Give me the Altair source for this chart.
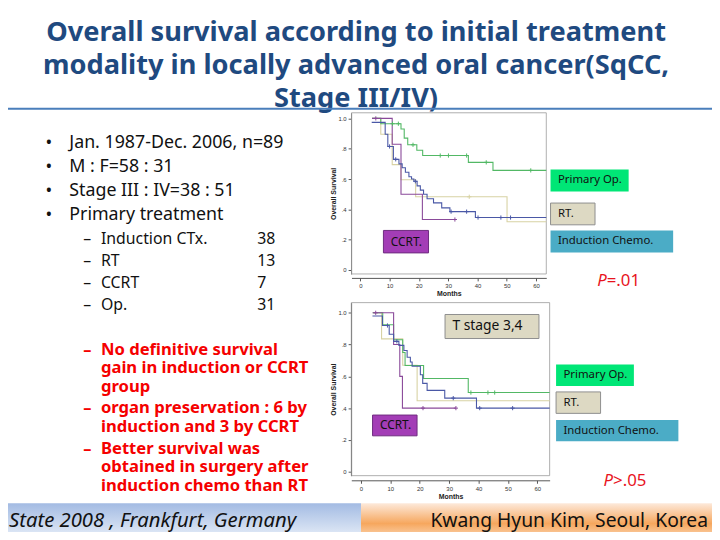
import altair as alt
import pandas as pd

# ---------------- text content ----------------
title_lines = ["Overall survival according to initial treatment",
               "modality in locally advanced oral cancer(SqCC,",
               "Stage III/IV)"]
bullet_lines = ["Jan. 1987-Dec. 2006, n=89", "M : F=58 : 31",
                "Stage III : IV=38 : 51", "Primary treatment"]
treat_names = ["Induction CTx.", "RT", "CCRT", "Op."]
treat_counts = ["38", "13", "7", "31"]
finding_1 = ["No definitive survival", "gain in induction or CCRT", "group"]
finding_2 = ["organ preservation : 6 by", "induction and 3 by CCRT"]
finding_3 = ["Better survival was", "obtained in surgery after", "induction chemo than RT"]
footer_left = "State 2008 , Frankfurt, Germany"
footer_right = "Kwang Hyun Kim, Seoul, Korea"
series = ["Primary Op.", "RT.", "Induction Chemo.", "CCRT."]
panel2_label = "T stage 3,4"
p_texts = [("P", "=.01"), ("P", ">.05")]
x_ticks = [0, 10, 20, 30, 40, 50, 60]
y_ticks = [0, 0.2, 0.4, 0.6, 0.8, 1.0]

# ---------------- survival data (months, survival) ----------------
# Panel 1 : all patients
p1_op_t = [4.0, 7.0, 13.9, 15.0, 16.2, 19.3, 21.3, 36.9, 45.3]
p1_op_s = [1.0, 0.965, 0.93, 0.87, 0.826, 0.79, 0.755, 0.71, 0.657]
p1_op_c = [11.0, 13.0, 18.0, 27.3, 30.1, 36.3, 43.0, 58.2]
p1_op_end = 63.5

p1_rt_t = [4.0, 7.0, 10.9, 13.9, 18.9, 50.1]
p1_rt_s = [1.0, 0.895, 0.695, 0.595, 0.483, 0.318]
p1_rt_c = [37.2]
p1_rt_end = 63.5

p1_ic_t = [3.9, 8.5, 9.4, 11.3, 13.2, 14.3, 15.4, 16.6, 17.5, 18.3, 19.4,
           20.5, 21.6, 22.8, 25.0, 27.8, 30.6, 39.3]
p1_ic_s = [0.974, 0.895, 0.815, 0.73, 0.70, 0.675, 0.645, 0.615, 0.60, 0.585,
           0.555, 0.527, 0.50, 0.47, 0.443, 0.41, 0.385, 0.346]
p1_ic_c = [10.0, 12.1, 18.8, 31.0, 36.3, 40.2, 48.0, 51.3]
p1_ic_end = 63.5

p1_cc_t = [4.0, 10.9, 13.9, 21.2]
p1_cc_s = [1.0, 0.83, 0.5, 0.333]
p1_cc_c = [5.3, 32.3]
p1_cc_end = 32.3

# Panel 2 : T stage 3,4
p2_op_t = [4.0, 7.4, 11.1, 14.2, 15.0, 21.3, 36.5]
p2_op_s = [1.0, 0.925, 0.83, 0.75, 0.668, 0.587, 0.498]
p2_op_c = [37.4, 43.2, 45.5]
p2_op_end = 64.2

p2_rt_t = [4.0, 7.0, 14.2, 19.1]
p2_rt_s = [1.0, 0.836, 0.67, 0.446]
p2_rt_c = []
p2_rt_end = 64.2

p2_ic_t = [3.9, 7.3, 9.6, 11.1, 12.9, 14.6, 15.7, 16.8, 17.4, 20.2, 21.0, 22.5, 28.5, 39.3]
p2_ic_s = [0.98, 0.92, 0.865, 0.82, 0.795, 0.763, 0.72, 0.69, 0.664, 0.61, 0.556, 0.512, 0.463, 0.40]
p2_ic_c = [9.0, 12.2, 31.4, 40.4, 51.6]
p2_ic_end = 64.2

p2_cc_t = [4.0, 11.1, 13.2, 14.1]
p2_cc_s = [1.0, 0.8, 0.6, 0.4]
p2_cc_c = [5.0, 21.1, 32.3]
p2_cc_end = 32.3

# ---------------- styles ----------------
FONT = "Noto Sans"
AXFONT = "Liberation Sans"
line_colors = ["#52B865", "#D8D2A4", "#4A58A6", "#8A4A9A"]
box_fills = ["#00E676", "#DDD9C3", "#4BACC6", "#A33DB6"]
TITLE_COLOR = "#1F4A80"
RED = "#F50000"
W, H = 712, 524


def V(v):
    """page pixel -> view pixel (page has 8px margin)"""
    return v - 8


one = pd.DataFrame({"k": [0]})


def frames(curves):
    rows, cens = [], []
    for name, t, s, end, c in curves:
        for ti, si in zip(t, s):
            rows.append({"series": name, "t": ti, "s": si})
        rows.append({"series": name, "t": end, "s": s[-1]})
        for ci in c:
            sv = [si for ti, si in zip(t, s) if ti <= ci][-1]
            cens.append({"series": name, "t": ci, "s": sv})
    return pd.DataFrame(rows), pd.DataFrame(cens)


def km_panel(curves, xdom, xrng, ydom, yrng, x_off, y_off):
    """returns a flat list of layers; every layer carries the same explicit scale"""
    df_l, df_c = frames(curves)

    def xs():
        return alt.Scale(domain=xdom, range=xrng, nice=False, zero=False)

    def ys():
        return alt.Scale(domain=ydom, range=yrng, nice=False, zero=False)

    color = alt.Color("series:N", scale=alt.Scale(domain=series, range=line_colors), legend=None)
    box = pd.DataFrame({"x0": [xdom[0]], "x1": [xdom[1]], "y0": [ydom[0]], "y1": [ydom[1]]})
    frame = alt.Chart(box).mark_rect(fillOpacity=0, stroke="#9a9a9a", strokeWidth=0.8).encode(
        x=alt.X("x0:Q", scale=xs(), axis=None), x2="x1:Q",
        y=alt.Y("y0:Q", scale=ys(), axis=None), y2="y1:Q")
    lines = alt.Chart(df_l).mark_line(interpolate="step-after", strokeWidth=1.1).encode(
        x=alt.X("t:Q", scale=xs(), axis=alt.Axis(
            orient="bottom", offset=x_off, values=x_ticks, title="Months", grid=False,
            domainColor="#555", tickColor="#555", tickSize=3, labelFontSize=6,
            labelFont=AXFONT, labelColor="#333", labelPadding=2, titleFont=AXFONT,
            titleFontSize=7, titleFontWeight="bold", titleColor="#222", titlePadding=1)),
        y=alt.Y("s:Q", scale=ys(), axis=alt.Axis(
            orient="left", offset=y_off, values=y_ticks, title="Overall Survival", grid=False,
            labelExpr="datum.value == 0 ? '0' : (datum.value == 1 ? '1.0' : replace(format(datum.value, '.1f'), '0.', '.'))",
            domainColor="#555", tickColor="#555", tickSize=3, labelFontSize=6,
            labelFont=AXFONT, labelColor="#333", labelPadding=2, titleFont=AXFONT,
            titleFontSize=7, titleFontWeight="bold", titleColor="#222", titlePadding=1)),
        color=color)
    cens = alt.Chart(df_c).mark_point(shape="M0,-1V1M-1,0H1", size=18, strokeWidth=1,
                                      filled=False, opacity=1).encode(
        x=alt.X("t:Q", scale=xs(), axis=None), y=alt.Y("s:Q", scale=ys(), axis=None), color=color)
    return [frame, lines, cens]


def text_block(lines, x, y, size, color="#111", weight="normal", align="left",
               lh=None, style="normal", font=FONT):
    kw = dict(text=lines, align=align, baseline="alphabetic", fontSize=size,
              font=font, color=color, fontWeight=weight, fontStyle=style)
    if lh is not None:
        kw["lineHeight"] = lh
    return alt.Chart(one).mark_text(**kw).encode(x=alt.value(V(x)), y=alt.value(V(y)))


def label_box(x0, y0, x1, y1, fill, label, size, stroke=None):
    kw = dict(fill=fill)
    if stroke:
        kw.update(stroke=stroke, strokeWidth=1)
    r = alt.Chart(one).mark_rect(**kw).encode(
        x=alt.value(V(x0)), x2=alt.value(V(x1)), y=alt.value(V(y0)), y2=alt.value(V(y1)))
    t = alt.Chart(one).mark_text(text=label, align="left", baseline="middle", fontSize=size,
                                 font=FONT, color="#111").encode(
        x=alt.value(V(x0 + 7.5)), y=alt.value(V((y0 + y1) / 2)))
    return [r, t]


layers = []

# title + separator
layers.append(text_block(title_lines, 360, 38, 27.5, color=TITLE_COLOR, weight="bold",
                         align="center", lh=33.5))
layers.append(alt.Chart(one).mark_rule(color="#4A7EBB", strokeWidth=2).encode(
    x=alt.value(0), x2=alt.value(W), y=alt.value(V(107))))

# left column text
layers.append(text_block(["•"] * len(bullet_lines), 46, 146.7, 18, lh=24.4))
layers.append(text_block(bullet_lines, 70, 146.7, 18, lh=24.4))
layers.append(text_block(["–"] * len(treat_names), 84, 244, 16, lh=22))
layers.append(text_block(treat_names, 102, 244, 16, lh=22))
layers.append(text_block(treat_counts, 260, 244, 16, lh=22))
for lines, y0 in [(finding_1, 356), (finding_2, 415), (finding_3, 456)]:
    layers.append(text_block(["–"], 84, y0, 16.5, color=RED, weight="bold"))
    layers.append(text_block(lines, 102, y0, 16.8, color=RED, weight="bold", lh=18.6))

# KM panel 1
layers += km_panel(
    [("RT.", p1_rt_t, p1_rt_s, p1_rt_end, p1_rt_c),
     ("Primary Op.", p1_op_t, p1_op_s, p1_op_end, p1_op_c),
     ("CCRT.", p1_cc_t, p1_cc_s, p1_cc_end, p1_cc_c),
     ("Induction Chemo.", p1_ic_t, p1_ic_s, p1_ic_end, p1_ic_c)],
    xdom=[-3.0, 63.5], xrng=[V(355.4), V(552.4)],
    ydom=[-0.026, 1.037], yrng=[V(274.0), V(111.0)],
    x_off=V(278) - H, y_off=-V(355))
# KM panel 2
layers += km_panel(
    [("RT.", p2_rt_t, p2_rt_s, p2_rt_end, p2_rt_c),
     ("Primary Op.", p2_op_t, p2_op_s, p2_op_end, p2_op_c),
     ("CCRT.", p2_cc_t, p2_cc_s, p2_cc_end, p2_cc_c),
     ("Induction Chemo.", p2_ic_t, p2_ic_s, p2_ic_end, p2_ic_c)],
    xdom=[-3.3, 64.2], xrng=[V(355.2), V(555.8)],
    ydom=[-0.025, 1.064], yrng=[V(478.0), V(303.0)],
    x_off=V(482.7) - H, y_off=-V(355))

# legend-like boxes panel 1
layers += label_box(556.7, 168.3, 635.7, 190.7, box_fills[0], series[0], 11.5)
layers += label_box(556.7, 202.3, 601.7, 224.3, box_fills[1], series[1], 11.5, stroke="#8E8E8E")
layers += label_box(556.7, 230.0, 680.7, 252.3, box_fills[2], series[2], 11.5)
layers += label_box(387.7, 230.0, 433.3, 252.7, box_fills[3], series[3], 12, stroke="#6E2C80")
# panel 2
layers += label_box(562.3, 365.7, 641.0, 387.3, box_fills[0], series[0], 11.5)
layers += label_box(562.3, 393.3, 607.3, 415.0, box_fills[1], series[1], 11.5, stroke="#8E8E8E")
layers += label_box(562.3, 421.7, 686.0, 443.3, box_fills[2], series[2], 11.5)
layers += label_box(376.7, 416.7, 421.7, 437.7, box_fills[3], series[3], 12, stroke="#6E2C80")
layers += label_box(450.0, 315.0, 545.0, 339.3, box_fills[1], panel2_label, 14, stroke="#8E8E8E")

# p-values
for (pl, rest), (xp, yb) in zip(p_texts, [(613.5, 286), (620.0, 488)]):
    layers.append(text_block([pl], xp, yb, 17, color="#E8141E", align="right", style="italic"))
    layers.append(text_block([rest], xp, yb, 17, color="#E8141E"))

# footer bands
blue_grad = alt.LinearGradient(gradient="linear", x1=0, x2=0, y1=0, y2=1, stops=[
    alt.GradientStop(color="#A3BBE3", offset=0), alt.GradientStop(color="#E4ECF7", offset=1)])
orange_grad = alt.LinearGradient(gradient="linear", x1=0, x2=0, y1=0, y2=1, stops=[
    alt.GradientStop(color="#FDE9DA", offset=0), alt.GradientStop(color="#F6A75E", offset=0.6),
    alt.GradientStop(color="#FBD2AC", offset=1)])
layers.append(alt.Chart(one).mark_rect(fill=blue_grad).encode(
    x=alt.value(0), x2=alt.value(V(365)), y=alt.value(V(506)), y2=alt.value(V(540))))
layers.append(alt.Chart(one).mark_rect(fill=orange_grad).encode(
    x=alt.value(V(365)), x2=alt.value(W), y=alt.value(V(506)), y2=alt.value(V(540))))
layers.append(text_block([footer_left], 9, 529.5, 20.5, style="italic"))
layers.append(text_block([footer_right], 716, 529.5, 19.5, align="right"))

chart = alt.layer(*layers).resolve_scale(x="independent", y="independent").properties(
    width=W, height=H, autosize=alt.AutoSizeParams(type="none"), padding=0,
    background="white").configure_view(strokeWidth=0)

chart.save("out.html", embed_options={"renderer": "svg", "actions": False})
